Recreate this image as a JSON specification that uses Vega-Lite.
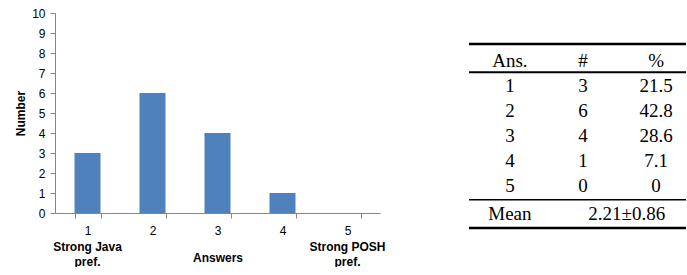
{
  "$schema": "https://vega.github.io/schema/vega-lite/v6.json",
  "padding": {"left": 14, "top": 7, "right": 0, "bottom": 0},
  "background": "white",
  "config": {
    "view": {"stroke": null},
    "font": "Liberation Sans",
    "axis": {
      "labelFont": "Liberation Sans",
      "labelFontSize": 12,
      "labelColor": "#000000",
      "titleFont": "Liberation Sans",
      "titleFontSize": 12,
      "titleFontWeight": "bold",
      "titleColor": "#000000",
      "domainColor": "#868686",
      "tickColor": "#868686",
      "grid": false
    }
  },
  "spacing": 81,
  "hconcat": [
    {
      "width": 325,
      "height": 200,
      "data": {"values": [
        {"answer": 1, "count": 3},
        {"answer": 2, "count": 6},
        {"answer": 3, "count": 4},
        {"answer": 4, "count": 1},
        {"answer": 5, "count": 0}
      ]},
      "encoding": {
        "y": {
          "field": "count", "type": "quantitative",
          "scale": {"domain": [0, 10]},
          "axis": {
            "title": "Number", "values": [0, 1, 2, 3, 4, 5, 6, 7, 8, 9, 10],
            "tickSize": 5, "labelPadding": 5, "titlePadding": 4
          }
        }
      },
      "layer": [
        {
          "mark": {"type": "bar", "color": "#4F81BD"},
          "encoding": {
            "x": {
              "field": "answer", "type": "ordinal",
              "scale": {"paddingInner": 0.6, "paddingOuter": 0.3},
              "axis": {
                "orient": "bottom",
                "title": "Answers", "labelAngle": 0, "tickBand": "extent",
                "tickSize": 5, "labelPadding": 7, "titlePadding": 16
              }
            }
          }
        },
        {
          "mark": {"type": "bar", "opacity": 0},
          "encoding": {
            "x": {
              "field": "answer", "type": "ordinal",
              "axis": {
                "orient": "bottom",
                "title": null, "labelAngle": 0, "domain": false, "ticks": false,
                "tickSize": 0, "labelPadding": 28, "labelFontWeight": "bold",
                "labelLineHeight": 15,
                "labelExpr": "datum.value == 1 ? ['Strong Java', 'pref.'] : datum.value == 5 ? ['Strong POSH', 'pref.'] : ''"
              }
            }
          }
        }
      ],
      "resolve": {"axis": {"x": "independent"}}
    },
    {
      "width": 217,
      "height": 200,
      "layer": [
        {
          "data": {"values": [
            {"r": 0, "c": 1, "t": "Ans."}, {"r": 0, "c": 2, "t": "#"}, {"r": 0, "c": 3, "t": "%"},
            {"r": 1, "c": 1, "t": "1"}, {"r": 1, "c": 2, "t": "3"}, {"r": 1, "c": 3, "t": "21.5"},
            {"r": 2, "c": 1, "t": "2"}, {"r": 2, "c": 2, "t": "6"}, {"r": 2, "c": 3, "t": "42.8"},
            {"r": 3, "c": 1, "t": "3"}, {"r": 3, "c": 2, "t": "4"}, {"r": 3, "c": 3, "t": "28.6"},
            {"r": 4, "c": 1, "t": "4"}, {"r": 4, "c": 2, "t": "1"}, {"r": 4, "c": 3, "t": "7.1"},
            {"r": 5, "c": 1, "t": "5"}, {"r": 5, "c": 2, "t": "0"}, {"r": 5, "c": 3, "t": "0"},
            {"r": 6.1, "c": 1, "t": "Mean"}, {"r": 6.1, "c": 2.6, "t": "2.21±0.86"}
          ]},
          "mark": {"type": "text", "font": "Liberation Serif", "fontSize": 19, "baseline": "middle", "align": "center", "color": "#000000"},
          "encoding": {
            "x": {"field": "c", "type": "quantitative", "scale": {"domain": [0.44, 3.41], "nice": false, "zero": false}, "axis": null},
            "y": {"field": "r", "type": "quantitative", "scale": {"domain": [-1.92, 6.08], "reverse": true, "nice": false, "zero": false}, "axis": null},
            "text": {"field": "t"}
          }
        },
        {
          "data": {"values": [
            {"pos": -0.68, "w": 2.6},
            {"pos": 0.45, "w": 2},
            {"pos": 5.55, "w": 1.6},
            {"pos": 6.68, "w": 2.6}
          ]},
          "mark": {"type": "rule", "color": "#000000"},
          "encoding": {
            "x": {"datum": 0.44, "type": "quantitative"},
            "x2": {"datum": 3.41},
            "y": {"field": "pos", "type": "quantitative"},
            "strokeWidth": {"field": "w", "type": "quantitative", "scale": null, "legend": null}
          }
        }
      ]
    }
  ]
}
